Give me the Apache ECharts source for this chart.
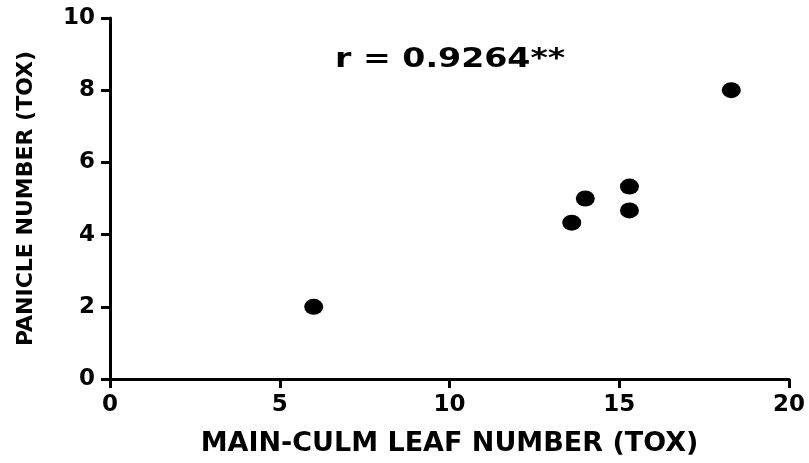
<!DOCTYPE html>
<html>
<head>
	<meta charset="UTF-8">
	<title>Panicle vs leaf number</title>
	<script src="https://cdn.jsdelivr.net/npm/echarts@6/dist/echarts.min.js"></script>
	<style>
		html, body { margin: 0; padding: 0; background: #fff; }
		#chart { width: 809px; height: 463px; }
	</style>
</head>
<body>
	<div id="chart"></div>
	<script>
		// leaf number (x) and panicle number (y)
		var leafNumber = [6.0, 13.6, 14.0, 15.3, 15.3, 18.3];
		var panicleNumber = [2.0, 4.33, 5.0, 5.33, 4.67, 8.0];
		var xTicks = [0, 5, 10, 15, 20];
		var yTicks = [0, 2, 4, 6, 8, 10];
		var rLabel = "r = 0.9264**";

		var points = leafNumber.map(function (x, i) { return [x, panicleNumber[i]]; });
		// DejaVu bold is wider than Arial, close to the stretched look of the original
		var font = "'DejaVu Sans', sans-serif";

		var myChart = echarts.init(document.getElementById('chart'));
		var option = {
			animation: false,
			backgroundColor: '#fff',
			graphic: [{
				type: 'text',
				x: 335,
				y: 60,
				scaleX: 1.23,
				style: {
					text: rLabel,
					font: "bold 27px 'DejaVu Sans', sans-serif",
					fill: '#000',
					textVerticalAlign: 'middle'
				}
			}],
			grid: { left: 110, right: 20, top: 18, bottom: 84 },
			xAxis: {
				type: 'value',
				min: xTicks[0],
				max: xTicks[xTicks.length - 1],
				interval: 5,
				name: 'MAIN-CULM LEAF NUMBER (TOX)',
				nameLocation: 'middle',
				nameGap: 51,
				nameTextStyle: { fontFamily: font, fontSize: 27, fontWeight: 'bold', color: '#000' },
				splitLine: { show: false },
				axisLine: { lineStyle: { color: '#000', width: 3 } },
				axisTick: { length: 9, lineStyle: { color: '#000', width: 3 } },
				axisLabel: { fontFamily: font, fontSize: 23, fontWeight: 'bold', color: '#000', margin: 15 }
			},
			yAxis: {
				type: 'value',
				min: yTicks[0],
				max: yTicks[yTicks.length - 1],
				interval: 2,
				name: 'PANICLE NUMBER (TOX)',
				nameLocation: 'middle',
				nameGap: 73,
				nameRotate: 90,
				nameTextStyle: { fontFamily: font, fontSize: 22, fontWeight: 'bold', color: '#000' },
				splitLine: { show: false },
				axisLine: { lineStyle: { color: '#000', width: 3 } },
				axisTick: { length: 9, lineStyle: { color: '#000', width: 3 } },
				axisLabel: { fontFamily: font, fontSize: 23, fontWeight: 'bold', color: '#000', margin: 15 }
			},
			series: [{
				type: 'scatter',
				data: points,
				symbol: 'circle',
				symbolSize: [19, 16],
				itemStyle: { color: '#000', opacity: 1 }
			}]
		};
		myChart.setOption(option);
	</script>
</body>
</html>
